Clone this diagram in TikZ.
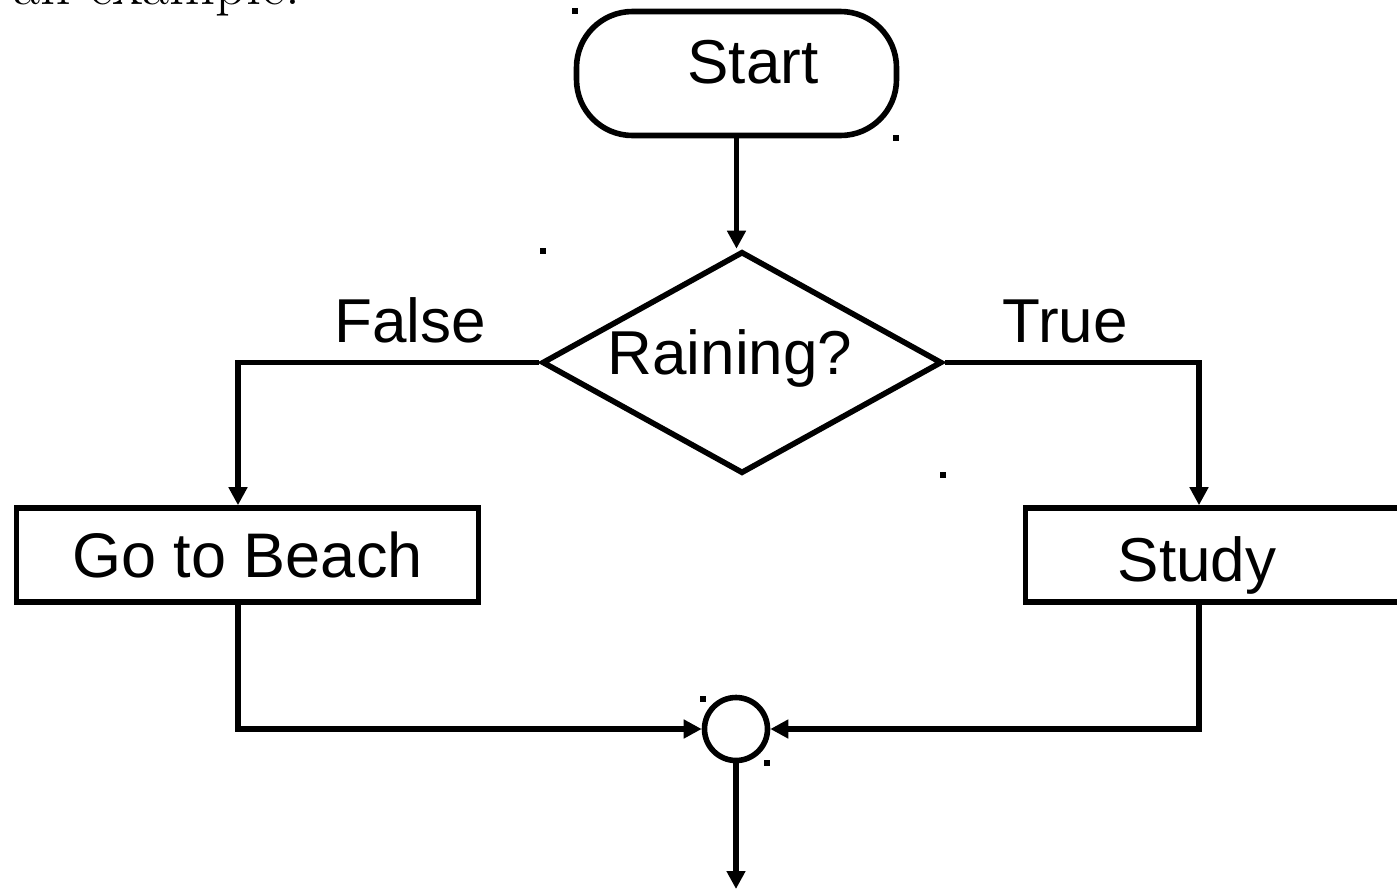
\documentclass[tikz,border=0pt]{standalone}
\usepackage{fontspec}
\newfontfamily\flowfont{Liberation Sans}
\usetikzlibrary{shapes.geometric,arrows.meta}

\tikzset{
  flow/.style={line width=2.8pt, draw=black},
  arr/.style={flow, -{Triangle[length=9pt,width=9pt]}},
  terminal/.style={flow, rectangle, rounded corners=28pt, minimum width=160pt, minimum height=62pt, inner sep=0pt},
  decision/.style={flow, diamond, minimum width=200pt, minimum height=111pt, inner sep=0pt},
  process/.style={flow, rectangle, minimum width=231pt, minimum height=47pt, inner sep=0pt, font=\flowfont\fontsize{31.5}{37}\selectfont},
  junction/.style={flow, circle, minimum size=31.5pt, inner sep=0pt},
  label/.style={inner sep=0pt, anchor=base, font=\flowfont\fontsize{31}{37}\selectfont},
  handle/.style={fill=black, draw=none, minimum size=3pt, inner sep=0pt, rectangle},
}

\begin{document}
\begin{tikzpicture}[x=0.5pt, y=-0.5pt]
  \useasboundingbox (0,0) rectangle (1397,890);
  \clip (0,0) rectangle (1397,890);

  % sentence running in from the page above
  \node[anchor=base west, inner sep=0pt, font=\fontsize{29.8}{34}\selectfont] (intro) at (13,4) {an example.};

  % shapes
  \node[terminal] (start) at (736.5,73.5) {};
  \node[label] (starttext) at (753,83) {Start};

  \node[decision] (dia) at (742,362.5) {};
  \node[label] (diatext) at (730,374) {Raining?};

  \node[process] (beach) at (247.5,555) {Go to Beach};

  \node[process] (study) at (1256.5,555) {};
  \node[label] (studytext) at (1197,581) {Study};

  \node[junction] (join) at (736,729) {};

  % branch labels
  \node[label] (false) at (410,342) {False};
  \node[label] (true) at (1065,342) {True};

  % connectors
  \coordinate (beachin) at ([xshift=-4.75pt]beach.north);
  \coordinate (beachout) at ([xshift=-4.75pt]beach.south);
  \coordinate (studyin) at ([xshift=-28.75pt]study.north);
  \coordinate (studyout) at ([xshift=-28.75pt]study.south);
  \coordinate (out) at (736,889);

  \draw[arr] (start.south) -- (start.south |- dia.north);
  \draw[arr] (dia.west) -| (beachin);
  \draw[arr] (dia.east) -| (studyin);
  \draw[arr] (beachout) |- (join.west);
  \draw[arr] (studyout) |- (join.east);
  \draw[arr] (join.south) -- (out);

  % selection handles
  \node[handle] (h1) at (575,11) {};
  \node[handle] (h2) at (896,138) {};
  \node[handle] (h3) at (543,251) {};
  \node[handle] (h4) at (943,475) {};
  \node[handle] (h5) at (703,699) {};
  \node[handle] (h6) at (767,763) {};
\end{tikzpicture}
\end{document}
